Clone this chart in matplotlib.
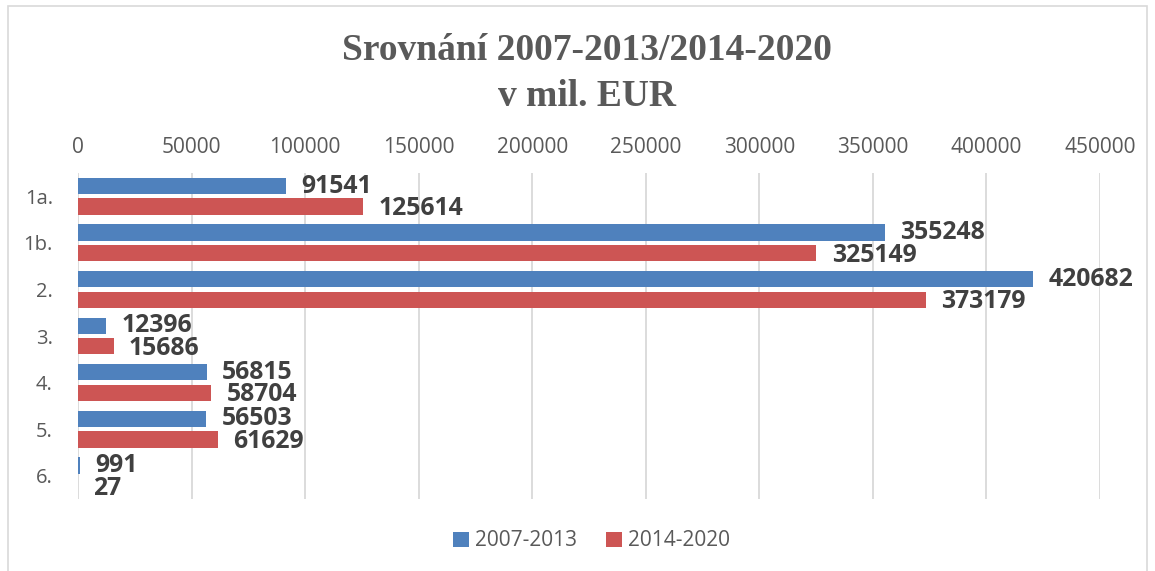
import numpy as np
import matplotlib.pyplot as plt
from matplotlib.patches import Rectangle

# data
categories = ["1a.", "1b.", "2.", "3.", "4.", "5.", "6."]
values_0713 = [91541, 355248, 420682, 12396, 56815, 56503, 991]
values_1420 = [125614, 325149, 373179, 15686, 58704, 61629, 27]
series_names = ["2007-2013", "2014-2020"]
xticks = [0, 50000, 100000, 150000, 200000, 250000, 300000, 350000, 400000, 450000]

blue = "#4f81bd"
red = "#cd5554"
grey_txt = "#595959"
lbl_txt = "#404040"

fig = plt.figure(figsize=(11.55, 5.71), dpi=100)
ax = fig.add_axes([78 / 1155, 1 - 499 / 571, (1100 - 78) / 1155, (499 - 173) / 571])

y = np.arange(len(categories))
h = 0.35
off = 0.22
b1 = ax.barh(y - off, values_0713, height=h, color=blue, label=series_names[0], zorder=3)
b2 = ax.barh(y + off, values_1420, height=h, color=red, label=series_names[1], zorder=3)

# labels next to the bar ends
for bars, vals, dy in ((b1, values_0713, 0), (b2, values_1420, -1.5)):
    for bar, v in zip(bars, vals):
        ax.annotate(str(v), (v, bar.get_y() + bar.get_height() / 2),
                    xytext=(11, dy), textcoords="offset points",
                    va="center", ha="left", fontsize=17.8, fontweight="bold",
                    color=lbl_txt, family="Open Sans")

ax.set_xlim(0, 450000)
ax.set_ylim(len(categories) - 0.5, -0.5)
ax.set_xticks(xticks)
ax.set_xticklabels([str(t) for t in xticks])
ax.xaxis.tick_top()
ax.tick_params(axis="x", length=0, pad=11, labelsize=15, labelcolor=grey_txt)
ax.set_yticks(y)
ax.set_yticklabels(categories, family="Open Sans")
ax.tick_params(axis="y", length=0, pad=18, labelsize=14.5, labelcolor=grey_txt)
for lab in ax.get_xticklabels():
    lab.set_family("Open Sans")
ax.grid(axis="x", color="#d9d9d9", lw=1.3, zorder=0)
for s in ax.spines.values():
    s.set_visible(False)

fig.text(0.508, 1 - 50 / 571, "Srovnání 2007-2013/2014-2020", ha="center", va="center",
         fontsize=27, fontweight="bold", color=grey_txt, family="Liberation Serif")
fig.text(0.508, 1 - 97 / 571, "v mil. EUR", ha="center", va="center",
         fontsize=27, fontweight="bold", color=grey_txt, family="Liberation Serif")

fig.legend(handles=[b1, b2], loc="center", bbox_to_anchor=(0.512, 1 - 541 / 571),
           ncol=2, frameon=False, handlelength=0.75, handleheight=0.75,
           handletextpad=0.3, columnspacing=1.4,
           prop={"family": "Open Sans", "size": 15}, labelcolor=grey_txt)

fig.patches.append(Rectangle((8 / 1155, -0.01), (1147 - 8) / 1155, 1 - 6 / 571 + 0.01,
                             transform=fig.transFigure, fill=False, edgecolor="#d9d9d9", lw=1.2))

fig.savefig("out.png", dpi=100)
